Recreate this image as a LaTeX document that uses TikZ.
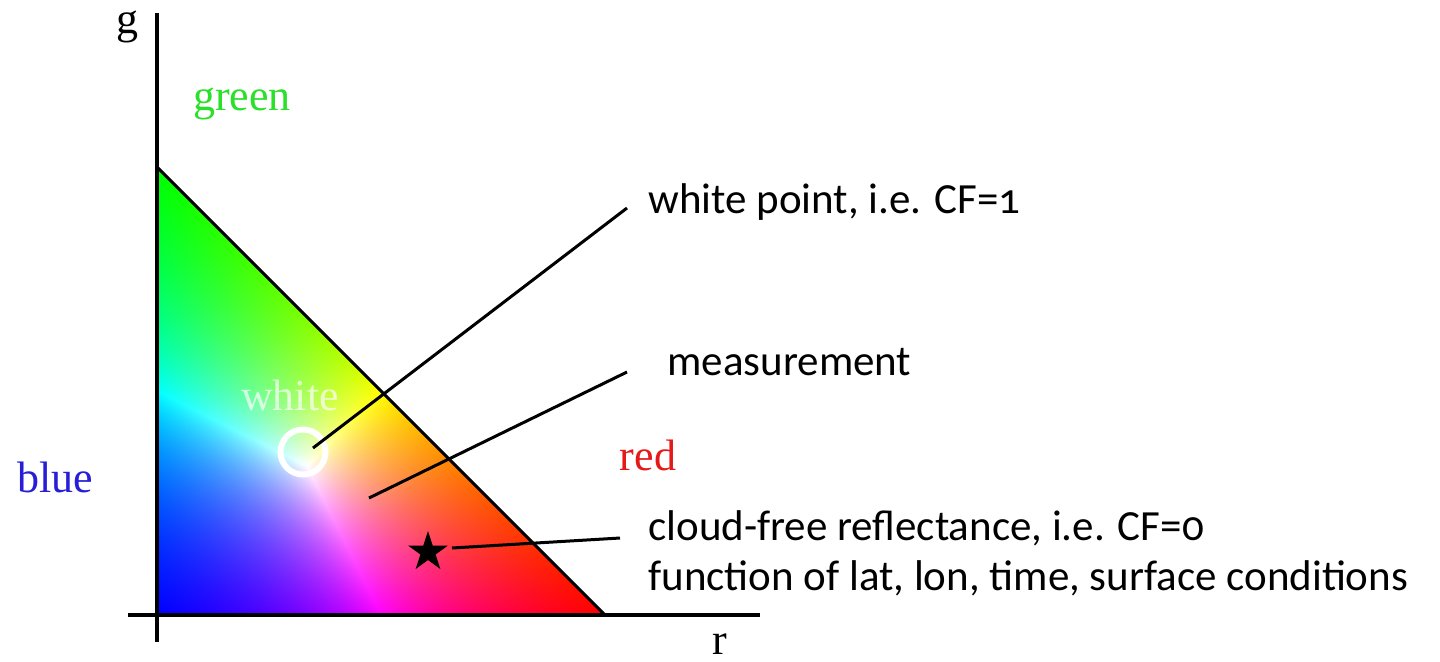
\documentclass[tikz,border=0pt]{standalone}
\usepackage{fontspec}
\setmainfont{Liberation Serif}
\newfontfamily\notefont{Carlito}[Numbers=OldStyle]
\usetikzlibrary{shapes.geometric}
\definecolor{labgreen}{RGB}{40,225,40}
\definecolor{labblue}{RGB}{40,30,215}
\definecolor{labred}{RGB}{230,25,25}
% r-g chromaticity triangle: colour = (r,g,1-r-g) scaled to its largest part
\pgfdeclarefunctionalshading{rgtriangle}{\pgfpointorigin}{\pgfpoint{100bp}{100bp}}{}{
  25 sub 50 div exch 25 sub 50 div exch
  2 copy add 1 exch sub
  dup 0 lt {pop 0} if
  3 copy
  2 copy lt {exch} if pop
  2 copy lt {exch} if pop
  dup 0.001 lt {pop 0.001} if
  3 index 1 index div
  3 index 2 index div
  3 index 3 index div
  7 3 roll pop pop pop pop
}
\tikzset{
  axis/.style={black,line width=1.8pt},
  edge/.style={black,line width=1.5pt},
  leader/.style={black,line width=1.5pt},
  axislab/.style={anchor=base,inner sep=0pt,font=\fontsize{22}{26}\selectfont},
  note/.style={anchor=base west,inner sep=0pt,font=\notefont\fontsize{21.5}{25}\selectfont},
  ring/.style={circle,draw=white,line width=3pt,minimum size=22.5pt,inner sep=0pt},
  starmark/.style={star,star points=5,star point ratio=2.618,fill=black,
                   minimum size=21pt,inner sep=0pt},
}
\begin{document}
\begin{tikzpicture}[x=0.5pt,y=-0.5pt]
  \path[use as bounding box] (0,0) rectangle (1440,661);

  % colour triangle and axes
  \coordinate (gtop) at (157,167);
  \coordinate (origin) at (157,615);
  \coordinate (rend) at (605,615);
  \shade[shading=rgtriangle] (gtop) -- (origin) -- (rend) -- cycle;
  \draw[edge] (gtop) -- (rend);
  \draw[axis] (157,13) -- (157,642);
  \draw[axis] (128,615) -- (760,615);

  \node[axislab] (glab) at (127,33) {g};
  \node[axislab] (rlab) at (720,654) {r};
  \node[axislab,text=labgreen] (greenlab) at (242,110) {green};
  \node[axislab,text=labblue] (bluelab) at (55,492) {blue};
  \node[axislab,text=labred] (redlab) at (648,470) {red};
  \node[axislab,text=white,text opacity=0.7] (whitelab) at (290,410) {white};

  % marks
  \node[ring] (wp) at (303,452) {};
  \node[starmark] (cf) at (428,552) {};
  \coordinate (wpin) at (313,448);
  \coordinate (meas) at (369,498);
  \coordinate (cfin) at (452,548);

  % explanations
  \node[note] (wptext) at (648,213) {white point, i.e. CF=1};
  \node[note] (meastext) at (667,375) {measurement};
  \node[note] (cftext) at (648,540) {cloud-free reflectance, i.e. CF=0};
  \node[note] (cftext2) at (648,590) {function of lat, lon, time, surface conditions};
  \coordinate (wpend) at (627,208);
  \coordinate (measend) at (627,372);
  \coordinate (cfend) at (620,538);

  \draw[leader] (wpin) -- (wpend);
  \draw[leader] (meas) -- (measend);
  \draw[leader] (cfin) -- (cfend);
\end{tikzpicture}
\end{document}
